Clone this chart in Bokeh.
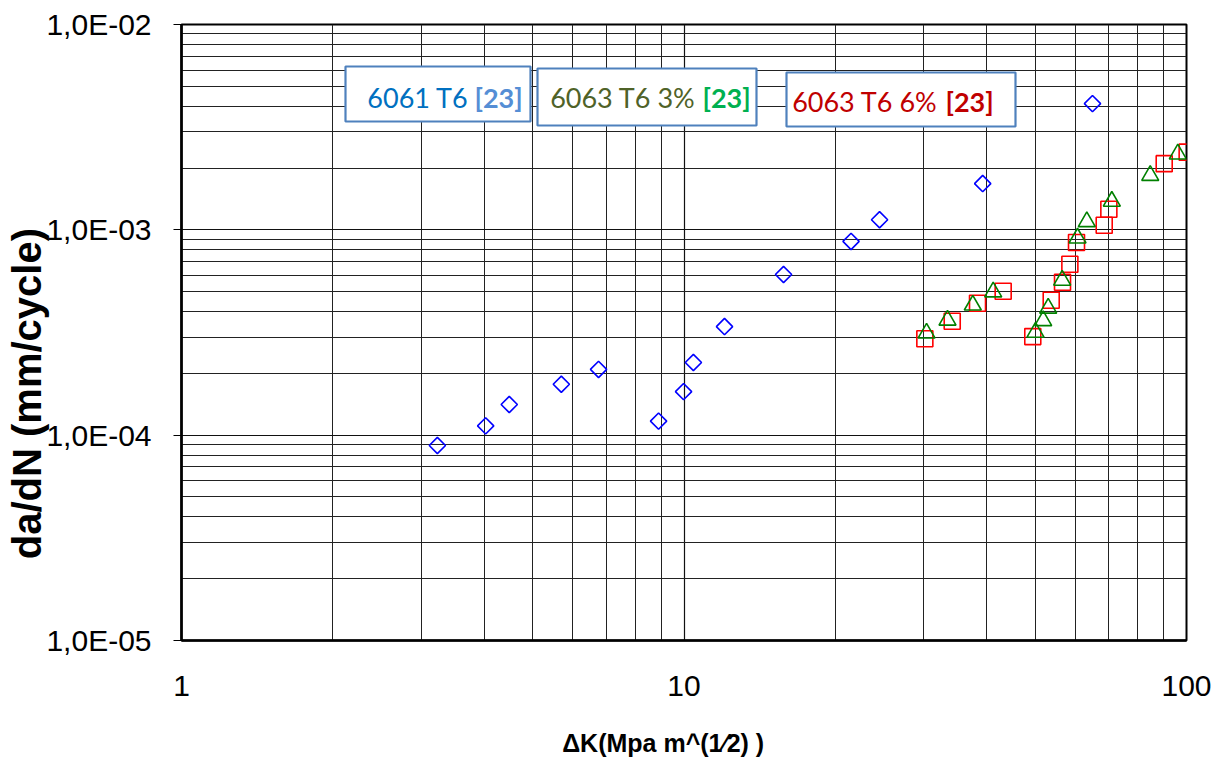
import math
from bokeh.plotting import figure
from bokeh.models import Range1d, FixedTicker, CustomJSTickFormatter, BoxAnnotation, Label
from bokeh.embed import file_html
from bokeh.resources import INLINE

# ---------------- data ----------------
dk_6061 = [3.23, 4.03, 4.49, 5.70, 6.76, 8.90, 9.98, 10.44, 12.04, 15.78, 21.5, 24.5, 39.3, 65.0]
dadn_6061 = [8.9e-5, 1.11e-4, 1.41e-4, 1.77e-4, 2.09e-4, 1.17e-4, 1.63e-4, 2.26e-4,
             3.38e-4, 6.06e-4, 8.78e-4, 1.12e-3, 1.68e-3, 4.12e-3]

dk_6063_6 = [30.15, 34.18, 38.38, 43.17, 49.44, 53.80, 56.66, 58.60, 60.41, 68.59, 70.06, 90.29, 100.3]
dadn_6063_6 = [2.95e-4, 3.59e-4, 4.39e-4, 5.02e-4, 3.02e-4, 4.54e-4, 5.56e-4, 6.80e-4,
               8.68e-4, 1.053e-3, 1.26e-3, 2.10e-3, 2.39e-3]

dk_6063_3 = [30.39, 33.45, 37.56, 41.24, 50.06, 51.86, 53.06, 56.57, 60.69, 63.33, 71.02, 84.69, 96.1]
dadn_6063_3 = [3.14e-4, 3.63e-4, 4.30e-4, 4.98e-4, 3.17e-4, 3.61e-4, 4.15e-4, 5.68e-4,
               9.12e-4, 1.095e-3, 1.377e-3, 1.84e-3, 2.34e-3]

x_major = [1, 10, 100]
y_major = [1e-5, 1e-4, 1e-3, 1e-2]
x_label = "\u0394K(Mpa m^(1\u20442) )"
y_label = "da/dN (mm/cycle)"
legend_names = ["6061 T6", "6063 T6 3%", "6063 T6 6%"]
legend_refs = ["[23]", "[23]", "[23]"]

# ---------------- layout ----------------
FW, FH = 1005, 616
X0, X1 = 1.0, 100.0
Y0, Y1 = 1e-5, 1e-2


def fx(px):
    """frame pixel (from left) -> data x"""
    return 10 ** (math.log10(X0) + px / FW * (math.log10(X1) - math.log10(X0)))


def fy(py):
    """frame pixel (from top) -> data y"""
    return 10 ** (math.log10(Y1) - py / FH * (math.log10(Y1) - math.log10(Y0)))


x_minor = [m * d for d in (1, 10) for m in range(2, 10)]
y_minor = [m * d for d in (1e-5, 1e-4, 1e-3) for m in range(2, 10)]

p = figure(x_axis_type="log", y_axis_type="log",
           x_range=Range1d(X0, X1), y_range=Range1d(Y0, Y1),
           frame_width=FW, frame_height=FH,
           min_border_left=181, min_border_right=29, min_border_top=24, min_border_bottom=110,
           output_backend="svg", toolbar_location=None,
           background_fill_color="white", border_fill_color="white")

p.outline_line_color = "black"
p.outline_line_width = 2

p.xaxis.ticker = FixedTicker(ticks=x_major, minor_ticks=x_minor)
p.yaxis.ticker = FixedTicker(ticks=y_major, minor_ticks=y_minor)
p.xaxis.formatter = CustomJSTickFormatter(code="return tick.toFixed(0);")
p.yaxis.formatter = CustomJSTickFormatter(
    code="const e = Math.round(-Math.log10(tick)); return '1,0E-' + String(e).padStart(2, '0');")

for ax in (p.xaxis, p.yaxis):
    ax.axis_line_color = "black"
    ax.axis_line_width = 2.6
    ax.minor_tick_in = 0
    ax.minor_tick_out = 0
    ax.major_label_text_font = "Liberation Sans"
    ax.major_label_text_font_size = "30px"
    ax.major_label_text_color = "black"

p.xaxis.major_tick_in = 0
p.xaxis.major_tick_out = 0
p.xaxis.major_label_standoff = 35
p.yaxis.major_tick_in = 0
p.yaxis.major_tick_out = 8
p.yaxis.major_tick_line_width = 1.2
p.yaxis.major_tick_line_color = "black"
p.yaxis.major_label_standoff = 22

# axis titles (trailing no-break spaces shift them off-centre like the reference)
p.xaxis.axis_label = x_label + "\u00a0" * 6
p.xaxis.axis_label_text_font = "'Liberation Sans Narrow', 'Liberation Sans'"
p.xaxis.axis_label_text_font_style = "bold"
p.xaxis.axis_label_text_font_size = "25px"
p.xaxis.axis_label_text_color = "black"
p.xaxis.axis_label_standoff = 30

p.yaxis.axis_label = y_label + "\u00a0" * 11
p.yaxis.axis_label_text_font = "Liberation Sans"
p.yaxis.axis_label_text_font_style = "bold"
p.yaxis.axis_label_text_font_size = "40px"
p.yaxis.axis_label_text_color = "black"
p.yaxis.axis_label_standoff = -6

for g in (p.xgrid, p.ygrid):
    g.grid_line_color = "#111111"
    g.grid_line_width = 1.2
    g.minor_grid_line_color = "#222222"
    g.minor_grid_line_width = 1

# ---------------- series ----------------
p.scatter(dk_6061, dadn_6061, marker="square", angle=math.pi / 4, size=11.5,
          line_color="#0000FF", line_width=1.6, fill_alpha=0)
p.scatter(dk_6063_6, dadn_6063_6, marker="square", size=16,
          line_color="#FF0000", line_width=1.6, fill_alpha=0)
p.scatter(dk_6063_3, dadn_6063_3, marker="triangle", size=17,
          line_color="#008000", line_width=1.6, fill_alpha=0)

# ---------------- text boxes ----------------
boxes = [(164, 349, 42, 97), (356, 575, 44, 101), (605, 834, 48, 102)]
splits = [(287, 293, 73), (514, 521, 73), (756, 764, 77)]
name_colors = ["#0070C0", "#4F6228", "#C00000"]
ref_colors = ["#558ED5", "#00B050", "#C00000"]

for (l, r, t, b), (s1, s2, yc), nm, rf, c1, c2 in zip(boxes, splits, legend_names, legend_refs,
                                                       name_colors, ref_colors):
    p.add_layout(BoxAnnotation(left=fx(l), right=fx(r), top=fy(t), bottom=fy(b),
                               fill_color="white", fill_alpha=1.0,
                               line_color="#4F81BD", line_width=2.2, line_alpha=1.0))
    p.add_layout(Label(x=fx(s1), y=fy(yc), text=nm, text_align="right", text_baseline="middle",
                       text_font="Lato", text_font_size="27px", text_color=c1))
    p.add_layout(Label(x=fx(s2), y=fy(yc), text=rf, text_align="left", text_baseline="middle",
                       text_font="Lato", text_font_size="27px", text_font_style="bold", text_color=c2))

open("out.html", "w").write(file_html(p, INLINE))
